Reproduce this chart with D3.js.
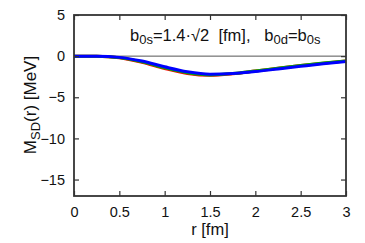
<!DOCTYPE html>
<html><head><meta charset="utf-8">
<script src="https://cdn.jsdelivr.net/npm/d3@7"></script>
<style>body{margin:0;background:#fff}svg{display:block}text{font-family:"Liberation Sans",Arial,sans-serif;fill:#111;white-space:pre}</style>
</head><body><div id="c"></div>
<script>
const rValues = [0,0.25,0.5,0.75,1.0,1.25,1.5,1.75,2.0,2.25,2.5,2.75,3.0];
const redValues = [0,-0.01,-0.2,-0.75,-1.5,-2.1,-2.33,-2.15,-1.82,-1.48,-1.15,-0.86,-0.6];
const greenValues = [0,-0.01,-0.18,-0.7,-1.42,-2.02,-2.28,-2.12,-1.8,-1.46,-1.13,-0.84,-0.58];
const blueValues = [0,-0.01,-0.15,-0.6,-1.3,-1.9,-2.2,-2.12,-1.88,-1.56,-1.24,-0.93,-0.66];
const xTicks = [0,0.5,1,1.5,2,2.5,3];
const yTicks = [-15,-10,-5,0,5];
const seriesColors = ["#ff0000","#00b000","#0000ff"];

const W=365,H=243, L=74,R=346,T=15,B=196;
const svg=d3.select("#c").append("svg").attr("width",W).attr("height",H);
const x=d3.scaleLinear().domain([0,3]).range([L,R]);
const y=d3.scaleLinear().domain([-17,5]).range([B,T]);

svg.append("line").attr("x1",L).attr("x2",R).attr("y1",y(0)).attr("y2",y(0)).attr("stroke","#555").attr("stroke-width",1);

const line=d3.line().x((d,i)=>x(rValues[i])).y(d=>y(d)).curve(d3.curveMonotoneX);
[redValues,greenValues,blueValues].forEach((s,k)=>{
  svg.append("path").attr("d",line(s)).attr("fill","none").attr("stroke",seriesColors[k]).attr("stroke-width",3);
});

const ax=g=>g.selectAll("text").style("font-size","14.5px").style("font-family",'"Liberation Sans",Arial,sans-serif');
svg.append("g").attr("transform",`translate(0,${B})`).call(d3.axisBottom(x).tickValues(xTicks).tickFormat(d3.format("")).tickSizeInner(-5).tickSizeOuter(0).tickPadding(11)).call(ax);
svg.append("g").attr("transform",`translate(0,${T})`).call(d3.axisTop(x).tickValues(xTicks).tickFormat("").tickSizeInner(-5).tickSizeOuter(0));
svg.append("g").attr("transform",`translate(${L},0)`).call(d3.axisLeft(y).tickValues(yTicks).tickSizeInner(-5).tickSizeOuter(0).tickPadding(9)).call(ax);
svg.append("g").attr("transform",`translate(${R},0)`).call(d3.axisRight(y).tickValues(yTicks).tickFormat("").tickSizeInner(-5).tickSizeOuter(0));
svg.selectAll(".domain").remove();
svg.selectAll(".tick line").attr("stroke","#333").attr("stroke-width",1.2);
svg.selectAll(".tick text").attr("fill","#111");
svg.append("rect").attr("x",L).attr("y",T).attr("width",R-L).attr("height",B-T).attr("fill","none").attr("stroke","#333").attr("stroke-width",1.8);

const t=svg.append("text").attr("x",130).attr("y",41).style("font-size","16.5px");
t.append("tspan").text("b");
t.append("tspan").text("0s").attr("dy",3).style("font-size","13px");
t.append("tspan").text("=1.4·√2  [fm],   b").attr("dy",-3);
t.append("tspan").text("0d").attr("dy",3).style("font-size","13px");
t.append("tspan").text("=b").attr("dy",-3);
t.append("tspan").text("0s").attr("dy",3).style("font-size","13px");

svg.append("text").attr("x",210).attr("y",235).attr("text-anchor","middle").style("font-size","16.5px").text("r [fm]");
const yl=svg.append("text").attr("transform","translate(36,105) rotate(-90)").attr("text-anchor","middle").style("font-size","17px");
yl.append("tspan").text("M");
yl.append("tspan").text("SD").attr("dy",4).style("font-size","13px");
yl.append("tspan").text("(r) [MeV]").attr("dy",-4);
</script></body></html>
